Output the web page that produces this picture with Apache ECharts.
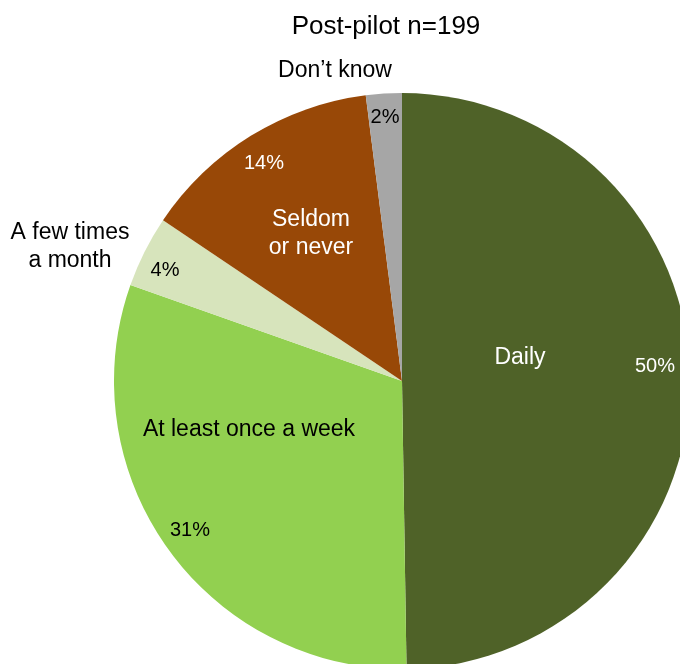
<!DOCTYPE html>
<html>
<head>
<meta charset="utf-8">
<script src="https://cdn.jsdelivr.net/npm/echarts@6/dist/echarts.min.js"></script>
<style>
html,body{margin:0;padding:0;background:#fff;}
#chart{width:680px;height:664px;}
</style>
</head>
<body>
<div id="chart"></div>
<script>
// ---- data ----
const titleText = 'Post-pilot n=199';
const categories = ['Daily', 'At least once a week', 'A few times\na month', 'Seldom\nor never', 'Don\u2019t know'];
const counts = [99, 61, 8, 27, 4];

// ---- style ----
const sliceColors = ['#4f6228', '#92d050', '#d7e4bc', '#984807', '#a6a6a6'];
const nameColors = ['#ffffff', '#000000', '#000000', '#ffffff', '#000000'];
const pctColors = ['#ffffff', '#000000', '#000000', '#ffffff', '#000000'];
const namePos = [[520, 358], [249, 430], [70, 247], [311, 234], [335, 71]];
const pctPos = [[655, 366], [190, 530], [165, 270], [264, 163], [385, 117]];
const FONT = '"Liberation Sans", Arial, sans-serif';

const pieData = categories.map((c, i) => ({
  name: c,
  value: counts[i],
  itemStyle: { color: sliceColors[i] }
}));

const chart = echarts.init(document.getElementById('chart'), null, { renderer: 'canvas' });
const common = {
  type: 'pie',
  center: [402, 381],
  radius: 288,
  startAngle: 90,
  clockwise: true,
  avoidLabelOverlap: false,
  labelLine: { show: false },
  emphasis: { disabled: true },
  animation: false
};
chart.setOption({
  animation: false,
  title: {
    text: titleText,
    left: 381,
    top: 9,
    textAlign: 'center',
    textStyle: { fontFamily: FONT, fontSize: 26, fontWeight: 'normal', color: '#000' }
  },
  series: [
    Object.assign({}, common, {
      name: 'slices',
      data: pieData.map((d, i) => Object.assign({}, d, {
        label: { color: nameColors[i] }
      })),
      itemStyle: { borderWidth: 0 },
      label: {
        show: true,
        position: 'inside',
        formatter: '{b}',
        fontFamily: FONT,
        fontSize: 23,
        lineHeight: 28,
        align: 'center'
      },
      labelLayout: function (p) {
        const pos = namePos[p.dataIndex];
        return { x: pos[0], y: pos[1], align: 'center', verticalAlign: 'middle' };
      }
    }),
    Object.assign({}, common, {
      name: 'pct',
      silent: true,
      data: pieData.map((d, i) => ({
        name: d.name,
        value: d.value,
        itemStyle: { color: 'rgba(0,0,0,0)' },
        label: { color: pctColors[i] }
      })),
      label: {
        show: true,
        position: 'inside',
        formatter: function (p) { return Math.round(p.percent) + '%'; },
        fontFamily: FONT,
        fontSize: 20
      },
      labelLayout: function (p) {
        const pos = pctPos[p.dataIndex];
        return { x: pos[0], y: pos[1], align: 'center', verticalAlign: 'middle' };
      }
    })
  ]
});
</script>
</body>
</html>
